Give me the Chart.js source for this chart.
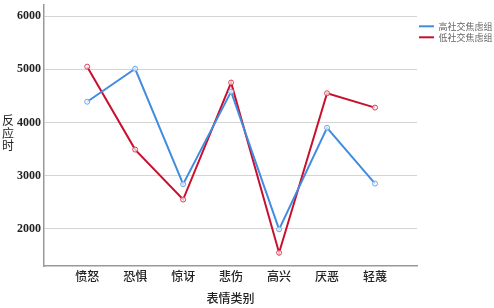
<!DOCTYPE html>
<html>
<head>
<meta charset="utf-8">
<script src="https://cdn.jsdelivr.net/npm/chart.js@4/dist/chart.umd.min.js"></script>
<style>
html,body{margin:0;padding:0;background:#fff;}
#wrap{width:494px;height:308px;position:relative;}
</style>
</head>
<body>
<div id="wrap"><canvas id="c" width="494" height="308"></canvas></div>
<script>
const categories = ['愤怒','恐惧','惊讶','悲伤','高兴','厌恶','轻蔑'];
const highAnxiety = [4390, 5010, 2840, 4580, 1990, 3900, 2850];
const lowAnxiety  = [5050, 3490, 2550, 4750, 1550, 4550, 4280];
const seriesNames = ['高社交焦虑组','低社交焦虑组'];
const yTicks = [2000, 3000, 4000, 5000, 6000];
const yAxisTitle = '反应时';
const xAxisTitle = '表情类别';

const toPoints = arr => arr.map((v,i)=>({x:i, y:v}));

const CJK = '"Noto Sans CJK SC", sans-serif';

const yTitlePlugin = {
  id:'yTitle',
  afterDraw(chart){
    const ctx = chart.ctx;
    ctx.save();
    ctx.font = '12px ' + CJK;
    ctx.fillStyle = '#222';
    ctx.textAlign = 'center';
    ctx.textBaseline = 'middle';
    const chars = Array.from(yAxisTitle);
    const mid = (chart.chartArea.top + chart.chartArea.bottom)/2;
    const step = 12.3;
    const start = mid - step*(chars.length-1)/2 - 2.5;
    chars.forEach((ch,i)=>ctx.fillText(ch, 8, start + i*step));
    ctx.restore();
  }
};

new Chart(document.getElementById('c'), {
  type:'line',
  data:{
    datasets:[
      {label:seriesNames[0], data:toPoints(highAnxiety), borderColor:'#428ce0', backgroundColor:'#428ce0',
       borderWidth:2, pointRadius:2.5, pointBorderWidth:1, pointBackgroundColor:'rgba(255,255,255,0.7)', pointBorderColor:'#6aa6e8', tension:0},
      {label:seriesNames[1], data:toPoints(lowAnxiety), borderColor:'#c8102e', backgroundColor:'#c8102e',
       borderWidth:2, pointRadius:2.5, pointBorderWidth:1, pointBackgroundColor:'rgba(255,255,255,0.7)', pointBorderColor:'#d8405a', tension:0}
    ]
  },
  options:{
    responsive:false,
    animation:false,
    layout:{padding:{top:0, left:0, right:0, bottom:0}},
    plugins:{
      tooltip:{enabled:false},
      legend:{
        position:'right', align:'start', maxWidth:77,
        title:{display:true, text:' ', font:{size:9}, padding:{top:9, bottom:0}},
        labels:{
          font:{size:9, family:CJK}, color:'#222',
          boxWidth:15, boxHeight:2, padding:2,
          generateLabels(chart){
            return chart.data.datasets.map((d,i)=>({
              text:d.label, fillStyle:d.borderColor, strokeStyle:d.borderColor,
              lineWidth:0, hidden:false, datasetIndex:i
            }));
          }
        }
      }
    },
    scales:{
      x:{
        type:'linear', min:-0.9, max:6.875,
        afterBuildTicks(s){ s.ticks = categories.map((c,i)=>({value:i})); },
        afterFit(s){ s.height = 42; s.paddingLeft = 0; s.paddingRight = 0; },
        ticks:{ callback:(v)=>categories[v], font:{size:12, family:CJK, weight:500}, color:'#222', padding:3, maxRotation:0, autoSkip:false },
        grid:{display:false, drawTicks:false},
        border:{display:true, color:'#999', width:1.5},
        title:{display:true, text:xAxisTitle, font:{size:12, family:CJK, weight:500}, color:'#222', padding:{top:0,bottom:2}}
      },
      y:{
        type:'linear', min:1300, max:6210,
        afterBuildTicks(s){ s.ticks = yTicks.map(v=>({value:v})); },
        afterFit(s){ s.width = 44; s.paddingTop = 0; s.paddingBottom = 0; },
        ticks:{ callback:(v)=>String(v), font:{size:12, family:'"Liberation Serif", serif', weight:'bold'}, color:'#222', padding:3 },
        grid:{color:'#d4d4d4', lineWidth:1, drawTicks:false},
        border:{display:true, color:'#999', width:1.5}
      }
    }
  },
  plugins:[yTitlePlugin]
});
</script>
</body>
</html>
